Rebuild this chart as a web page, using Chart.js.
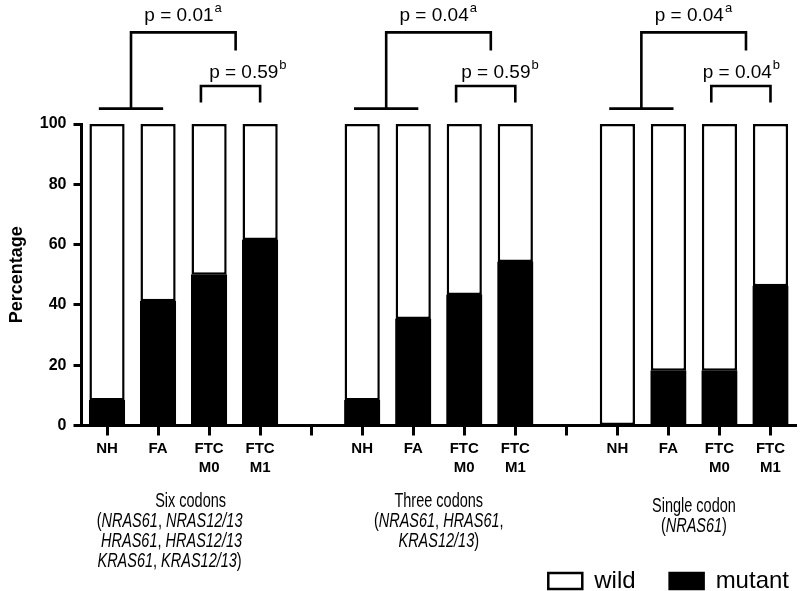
<!DOCTYPE html>
<html>
<head>
<meta charset="utf-8">
<script src="https://cdn.jsdelivr.net/npm/chart.js@4.4.1/dist/chart.umd.min.js"></script>
<style>
  html, body { margin: 0; padding: 0; background: #fff; }
  #wrap { width: 800px; height: 591px; position: relative; }
</style>
</head>
<body>
<div id="wrap"><canvas id="chart"></canvas></div>
<script>
// categories: 3 groups of 4 bars, with an empty slot between groups
const tickLabels = [
    'NH', 'FA', ['FTC', 'M0'], ['FTC', 'M1'], '',
    'NH', 'FA', ['FTC', 'M0'], ['FTC', 'M1'], '',
    'NH', 'FA', ['FTC', 'M0'], ['FTC', 'M1']
];

// percentages
const mutantValues = [8.3, 41.2, 50.0, 61.5, null, 8.3, 35.3, 43.3, 54.2, null, 0, 18.2, 18.2, 46.2];
const wildValues = [91.7, 58.8, 50.0, 38.5, null, 91.7, 64.7, 56.7, 45.8, null, 100, 81.8, 81.8, 53.8];

const yTicks = [0, 20, 40, 60, 80, 100];

// p-values above each group (overall test "a", metastasis test "b")
const pOverall = ['p = 0.01', 'p = 0.04', 'p = 0.04'];
const pMeta = ['p = 0.59', 'p = 0.59', 'p = 0.04'];

// group captions, *...* marks italic gene names
const groupCaptions = [
    ['Six codons', '(*NRAS61*, *NRAS12/13*', ' *HRAS61*, *HRAS12/13*', '*KRAS61*, *KRAS12/13*)'],
    ['Three codons', '(*NRAS61*, *HRAS61*,', '*KRAS12/13*)'],
    ['Single codon', '(*NRAS61*)']
];

const FONT = '"Liberation Sans", Arial, Helvetica, sans-serif';
Chart.defaults.font.family = FONT;
Chart.defaults.color = '#000';

// text made of plain and italic pieces, squeezed horizontally
function drawRich(ctx, line, cx, y, size, squeeze) {
    const parts = line.split('*');
    let total = 0;
    parts.forEach((p, i) => {
        ctx.font = (i % 2 ? 'italic ' : '') + size + 'px ' + FONT;
        total += ctx.measureText(p).width;
    });
    ctx.save();
    ctx.translate(cx, y);
    ctx.scale(squeeze, 1);
    let x = -total / 2;
    parts.forEach((p, i) => {
        ctx.font = (i % 2 ? 'italic ' : '') + size + 'px ' + FONT;
        ctx.fillText(p, x, 0);
        x += ctx.measureText(p).width;
    });
    ctx.restore();
}

function drawP(ctx, text, sup, x, y) {
    ctx.font = '19px ' + FONT;
    const w = ctx.measureText(text).width;
    ctx.font = '13px ' + FONT;
    const ws = ctx.measureText(sup).width;
    const left = x - (w + ws) / 2;
    ctx.textAlign = 'left';
    ctx.font = '19px ' + FONT;
    ctx.fillText(text, left, y);
    ctx.font = '13px ' + FONT;
    ctx.fillText(sup, left + w + 1, y - 9);
}

const annotations = {
    id: 'annotations',
    afterLayout(chart) {
        // push the legend into the lower right corner
        const lg = chart.legend;
        lg.left += 27; lg.right += 27;
        lg.top += 12; lg.bottom += 12;
    },
    afterDraw(chart) {
        const ctx = chart.ctx;
        const xs = chart.scales.x;
        const ys = chart.scales.y;
        const smallTextAt = [2.75, 2.69, 2.42];
        const captionShift = [[7, -14, -14, -14], [0, 0, 0], [0, 0]];
        ctx.save();
        ctx.strokeStyle = '#000';
        ctx.fillStyle = '#000';
        ctx.lineWidth = 2.6;
        ctx.lineCap = 'butt';
        ctx.textBaseline = 'alphabetic';

        for (let g = 0; g < 3; g++) {
            const s = g * 5;
            const X = c => xs.getPixelForValue(s + c);
            const Y = v => ys.getPixelForValue(v);

            // NH+FA vs FTC bracket
            ctx.beginPath();
            ctx.moveTo(X(-0.16), Y(105.1));
            ctx.lineTo(X(1.10), Y(105.1));
            ctx.moveTo(X(0.47), Y(105.1));
            ctx.lineTo(X(0.47), Y(130.4));
            ctx.lineTo(X(2.52), Y(130.4));
            ctx.lineTo(X(2.52), Y(124.4));
            ctx.stroke();

            // M0 vs M1 bracket
            ctx.beginPath();
            ctx.moveTo(X(1.84), Y(107.1));
            ctx.lineTo(X(1.84), Y(112.6));
            ctx.lineTo(X(3.0), Y(112.6));
            ctx.lineTo(X(3.0), Y(107.1));
            ctx.stroke();

            drawP(ctx, pOverall[g], 'a', X(1.48), Y(134.3));
            drawP(ctx, pMeta[g], 'b', X(smallTextAt[g]), Y(115.4));

            // caption under the group
            const cx = (X(0) + X(3)) / 2;
            const base = chart.chartArea.bottom + 81 + (g === 2 ? 5 : 0);
            ctx.textAlign = 'left';
            groupCaptions[g].forEach((line, i) => {
                drawRich(ctx, line, cx + captionShift[g][i], base + i * 20, 21, 0.69);
            });
        }
        ctx.restore();
    }
};

new Chart(document.getElementById('chart'), {
    type: 'bar',
    data: {
        labels: tickLabels,
        datasets: [{
            label: 'mutant',
            data: mutantValues,
            backgroundColor: '#000',
            borderColor: '#000',
            borderWidth: 2.5,
            borderSkipped: false,
            inflateAmount: 0.5
        }, {
            label: 'wild',
            data: wildValues,
            backgroundColor: '#fff',
            borderColor: '#000',
            borderWidth: 2.5,
            borderSkipped: false
        }]
    },
    options: {
        responsive: true,
        maintainAspectRatio: false,
        animation: false,
        devicePixelRatio: 1,
        barPercentage: 0.69,
        categoryPercentage: 1,
        layout: {
            padding: { top: 124, right: 4, left: 0, bottom: 0 }
        },
        plugins: {
            tooltip: { enabled: false },
            legend: {
                position: 'bottom',
                align: 'end',
                reverse: true,
                labels: {
                    boxWidth: 34,
                    boxHeight: 16,
                    padding: 34,
                    color: '#000',
                    font: { size: 24 }
                }
            }
        },
        scales: {
            x: {
                stacked: true,
                offset: true,
                border: { display: true, color: '#000', width: 3 },
                grid: {
                    offset: false,
                    drawOnChartArea: false,
                    drawTicks: true,
                    tickLength: 10,
                    tickWidth: 3,
                    tickColor: '#000'
                },
                ticks: {
                    autoSkip: false,
                    maxRotation: 0,
                    padding: 4,
                    color: '#000',
                    font: { size: 15, weight: 'bold', lineHeight: 1.25 }
                },
                afterFit: scale => {
                    const lg = scale.chart.legend;
                    scale.height = scale.chart.height - 425.5 - (lg ? lg.height : 0);
                }
            },
            y: {
                stacked: true,
                min: 0,
                max: 100,
                afterBuildTicks: scale => { scale.ticks = yTicks.map(v => ({ value: v })); },
                border: { display: true, color: '#000', width: 3 },
                grid: {
                    drawOnChartArea: false,
                    drawTicks: true,
                    tickLength: 8,
                    tickWidth: 3,
                    tickColor: '#000'
                },
                ticks: {
                    padding: 7,
                    color: '#000',
                    font: { size: 16, weight: 'bold' }
                },
                title: {
                    display: true,
                    text: 'Percentage',
                    color: '#000',
                    padding: { top: 6, bottom: 0 },
                    font: { size: 18, weight: 'bold' }
                },
                afterFit: scale => { scale.width = 81.5; }
            }
        }
    },
    plugins: [annotations]
});
</script>
</body>
</html>
